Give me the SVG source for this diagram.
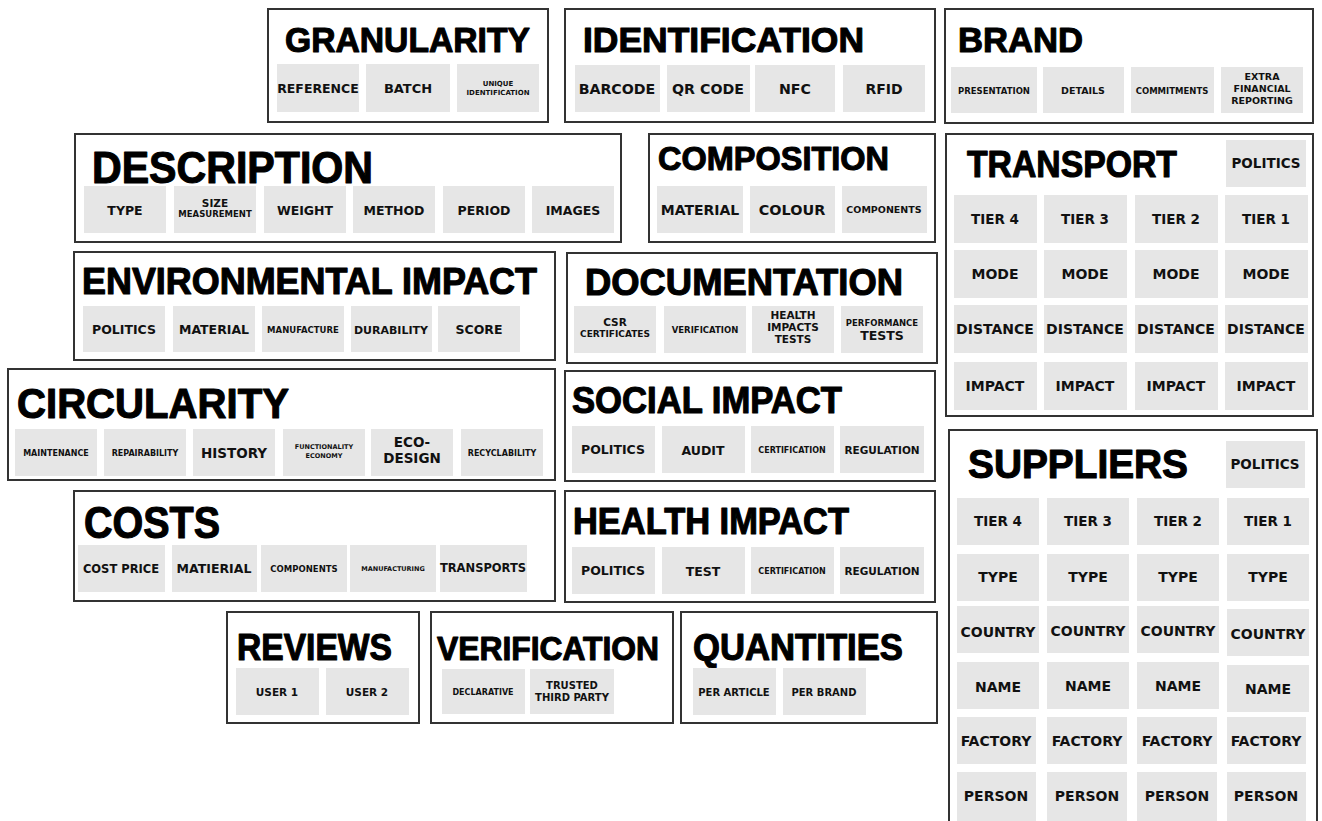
<svg xmlns="http://www.w3.org/2000/svg" width="1322" height="821" viewBox="0 0 1322 821">
<style>
.box{fill:#fff;stroke:#333;stroke-width:2}
.cell{fill:#e6e6e6}
.t{font-family:"Liberation Sans",Arial,sans-serif;font-weight:700;fill:#000;stroke:#000;stroke-width:1.1;stroke-linejoin:round}
.c{font-family:"DejaVu Sans","Liberation Sans",sans-serif;font-weight:700;fill:#111;text-anchor:middle}
</style>
<rect width="1322" height="821" fill="#fff"/>
<g id="connectors"/>

<g id="granularity">
<rect class="box" x="268" y="9" width="280" height="113"/>
<text class="t" x="285" y="52" font-size="35" textLength="245" lengthAdjust="spacingAndGlyphs">GRANULARITY</text>
<rect class="cell" x="277" y="64" width="82" height="48"/><text class="c" x="318" y="93" font-size="12.5">REFERENCE</text>
<rect class="cell" x="366" y="64" width="84" height="48"/><text class="c" x="408" y="93" font-size="13">BATCH</text>
<rect class="cell" x="457" y="64" width="82" height="48"/><text class="c" x="498" y="86" font-size="7">UNIQUE</text><text class="c" x="498" y="95" font-size="7">IDENTIFICATION</text>
</g>

<g id="identification">
<rect class="box" x="565" y="9" width="370" height="113"/>
<text class="t" x="583" y="52" font-size="35" textLength="281" lengthAdjust="spacingAndGlyphs">IDENTIFICATION</text>
<rect class="cell" x="575" y="65" width="85" height="47"/><text class="c" x="617" y="94" font-size="14.2">BARCODE</text>
<rect class="cell" x="667" y="65" width="83" height="47"/><text class="c" x="708" y="94" font-size="14.2">QR CODE</text>
<rect class="cell" x="755" y="65" width="80" height="47"/><text class="c" x="795" y="94" font-size="14.2">NFC</text>
<rect class="cell" x="843" y="65" width="82" height="47"/><text class="c" x="884" y="94" font-size="14">RFID</text>
</g>

<g id="brand">
<rect class="box" x="945" y="9" width="368" height="114"/>
<text class="t" x="958" y="52" font-size="35" textLength="125" lengthAdjust="spacingAndGlyphs">BRAND</text>
<rect class="cell" x="951" y="67" width="86" height="46"/><text class="c" x="994" y="94" font-size="8.5">PRESENTATION</text>
<rect class="cell" x="1043" y="67" width="81" height="46"/><text class="c" x="1083" y="94" font-size="9.5">DETAILS</text>
<rect class="cell" x="1131" y="67" width="83" height="46"/><text class="c" x="1172" y="94" font-size="8.5">COMMITMENTS</text>
<rect class="cell" x="1221" y="67" width="82" height="46"/><text class="c" x="1262" y="80" font-size="9.5">EXTRA</text><text class="c" x="1262" y="92" font-size="9.5">FINANCIAL</text><text class="c" x="1262" y="104" font-size="9.5">REPORTING</text>
</g>

<g id="description">
<rect class="box" x="75" y="134" width="546" height="108"/>
<text class="t" x="92" y="183" font-size="44" textLength="281" lengthAdjust="spacingAndGlyphs">DESCRIPTION</text>
<rect class="cell" x="84" y="186" width="82" height="47"/><text class="c" x="125" y="215" font-size="12.5">TYPE</text>
<rect class="cell" x="174" y="186" width="82" height="47"/><text class="c" x="215" y="207" font-size="10.5">SIZE</text><text class="c" x="215" y="217" font-size="8.5">MEASUREMENT</text>
<rect class="cell" x="264" y="186" width="82" height="47"/><text class="c" x="305" y="215" font-size="12.5">WEIGHT</text>
<rect class="cell" x="353" y="186" width="82" height="47"/><text class="c" x="394" y="215" font-size="12.5">METHOD</text>
<rect class="cell" x="443" y="186" width="82" height="47"/><text class="c" x="484" y="215" font-size="12.5">PERIOD</text>
<rect class="cell" x="532" y="186" width="82" height="47"/><text class="c" x="573" y="215" font-size="12.5">IMAGES</text>
</g>

<g id="composition">
<rect class="box" x="649" y="134" width="286" height="108"/>
<text class="t" x="658" y="170" font-size="34" textLength="231" lengthAdjust="spacingAndGlyphs">COMPOSITION</text>
<rect class="cell" x="657" y="186" width="86" height="47"/><text class="c" x="700" y="215" font-size="14">MATERIAL</text>
<rect class="cell" x="750" y="186" width="85" height="47"/><text class="c" x="792" y="215" font-size="14.4">COLOUR</text>
<rect class="cell" x="842" y="186" width="85" height="47"/><text class="c" x="884" y="213" font-size="9.5">COMPONENTS</text>
</g>

<g id="transport">
<rect class="box" x="946" y="134" width="367" height="282"/>
<text class="t" x="967" y="177" font-size="37" textLength="210" lengthAdjust="spacingAndGlyphs">TRANSPORT</text>
<rect class="cell" x="1226" y="140" width="80" height="47"/><text class="c" x="1266" y="168" font-size="13.5">POLITICS</text>
<rect class="cell" x="954" y="195" width="83" height="48"/><text class="c" x="995" y="224" font-size="13.5">TIER 4</text>
<rect class="cell" x="1044" y="195" width="83" height="48"/><text class="c" x="1085" y="224" font-size="13.5">TIER 3</text>
<rect class="cell" x="1135" y="195" width="83" height="48"/><text class="c" x="1176" y="224" font-size="13.5">TIER 2</text>
<rect class="cell" x="1225" y="195" width="83" height="48"/><text class="c" x="1266" y="224" font-size="13.5">TIER 1</text>
<rect class="cell" x="954" y="250" width="83" height="48"/><text class="c" x="995" y="279" font-size="14">MODE</text>
<rect class="cell" x="1044" y="250" width="83" height="48"/><text class="c" x="1085" y="279" font-size="14">MODE</text>
<rect class="cell" x="1135" y="250" width="83" height="48"/><text class="c" x="1176" y="279" font-size="14">MODE</text>
<rect class="cell" x="1225" y="250" width="83" height="48"/><text class="c" x="1266" y="279" font-size="14">MODE</text>
<rect class="cell" x="954" y="305" width="83" height="48"/><text class="c" x="995" y="334" font-size="14">DISTANCE</text>
<rect class="cell" x="1044" y="305" width="83" height="48"/><text class="c" x="1085" y="334" font-size="14">DISTANCE</text>
<rect class="cell" x="1135" y="305" width="83" height="48"/><text class="c" x="1176" y="334" font-size="14">DISTANCE</text>
<rect class="cell" x="1225" y="305" width="83" height="48"/><text class="c" x="1266" y="334" font-size="14">DISTANCE</text>
<rect class="cell" x="954" y="362" width="83" height="48"/><text class="c" x="995" y="391" font-size="14">IMPACT</text>
<rect class="cell" x="1044" y="362" width="83" height="48"/><text class="c" x="1085" y="391" font-size="14">IMPACT</text>
<rect class="cell" x="1135" y="362" width="83" height="48"/><text class="c" x="1176" y="391" font-size="14">IMPACT</text>
<rect class="cell" x="1225" y="362" width="83" height="48"/><text class="c" x="1266" y="391" font-size="14">IMPACT</text>
</g>

<g id="environmental-impact">
<rect class="box" x="74" y="252" width="481" height="108"/>
<text class="t" x="82" y="294" font-size="36" textLength="455" lengthAdjust="spacingAndGlyphs">ENVIRONMENTAL IMPACT</text>
<rect class="cell" x="83" y="306" width="82" height="46"/><text class="c" x="124" y="334" font-size="12.5">POLITICS</text>
<rect class="cell" x="173" y="306" width="82" height="46"/><text class="c" x="214" y="334" font-size="12.5">MATERIAL</text>
<rect class="cell" x="262" y="306" width="82" height="46"/><text class="c" x="303" y="333" font-size="8.5">MANUFACTURE</text>
<rect class="cell" x="351" y="306" width="81" height="46"/><text class="c" x="391" y="334" font-size="11">DURABILITY</text>
<rect class="cell" x="438" y="306" width="82" height="46"/><text class="c" x="479" y="334" font-size="12.5">SCORE</text>
</g>

<g id="documentation">
<rect class="box" x="567" y="253" width="370" height="110"/>
<text class="t" x="585" y="295" font-size="37" textLength="318" lengthAdjust="spacingAndGlyphs">DOCUMENTATION</text>
<rect class="cell" x="574" y="306" width="82" height="47"/><text class="c" x="615" y="326" font-size="10.5">CSR</text><text class="c" x="615" y="337" font-size="9">CERTIFICATES</text>
<rect class="cell" x="664" y="306" width="82" height="47"/><text class="c" x="705" y="333" font-size="8.5">VERIFICATION</text>
<rect class="cell" x="752" y="306" width="82" height="47"/><text class="c" x="793" y="319" font-size="10.5">HEALTH</text><text class="c" x="793" y="331" font-size="10.5">IMPACTS</text><text class="c" x="793" y="343" font-size="10.5">TESTS</text>
<rect class="cell" x="841" y="306" width="82" height="47"/><text class="c" x="882" y="326" font-size="8.5">PERFORMANCE</text><text class="c" x="882" y="340" font-size="12.5">TESTS</text>
</g>

<g id="circularity">
<rect class="box" x="8" y="369" width="547" height="111"/>
<text class="t" x="17" y="418" font-size="42" textLength="272" lengthAdjust="spacingAndGlyphs">CIRCULARITY</text>
<rect class="cell" x="15" y="429" width="82" height="47"/><text class="c" x="56" y="456" font-size="8">MAINTENANCE</text>
<rect class="cell" x="104" y="429" width="82" height="47"/><text class="c" x="145" y="456" font-size="8">REPAIRABILITY</text>
<rect class="cell" x="193" y="429" width="82" height="47"/><text class="c" x="234" y="458" font-size="13.5">HISTORY</text>
<rect class="cell" x="283" y="429" width="82" height="47"/><text class="c" x="324" y="449" font-size="6.5">FUNCTIONALITY</text><text class="c" x="324" y="458" font-size="6.5">ECONOMY</text>
<rect class="cell" x="371" y="429" width="82" height="47"/><text class="c" x="412" y="447" font-size="13.5">ECO-</text><text class="c" x="412" y="463" font-size="13.5">DESIGN</text>
<rect class="cell" x="461" y="429" width="82" height="47"/><text class="c" x="502" y="456" font-size="8">RECYCLABILITY</text>
</g>

<g id="social-impact">
<rect class="box" x="565" y="371" width="370" height="110"/>
<text class="t" x="572" y="413" font-size="36" textLength="270" lengthAdjust="spacingAndGlyphs">SOCIAL IMPACT</text>
<rect class="cell" x="572" y="426" width="83" height="47"/><text class="c" x="613" y="454" font-size="12.5">POLITICS</text>
<rect class="cell" x="662" y="426" width="83" height="47"/><text class="c" x="703" y="455" font-size="12.5">AUDIT</text>
<rect class="cell" x="751" y="426" width="83" height="47"/><text class="c" x="792" y="453" font-size="8">CERTIFICATION</text>
<rect class="cell" x="840" y="426" width="84" height="47"/><text class="c" x="882" y="454" font-size="10.5">REGULATION</text>
</g>

<g id="suppliers">
<rect class="box" x="949" y="430" width="368" height="400"/>
<text class="t" x="968" y="478" font-size="40" textLength="220" lengthAdjust="spacingAndGlyphs">SUPPLIERS</text>
<rect class="cell" x="1226" y="441" width="79" height="47"/><text class="c" x="1265" y="469" font-size="13.5">POLITICS</text>
<rect class="cell" x="957" y="498" width="82" height="47"/><text class="c" x="998" y="526" font-size="13.5">TIER 4</text>
<rect class="cell" x="1047" y="498" width="82" height="47"/><text class="c" x="1088" y="526" font-size="13.5">TIER 3</text>
<rect class="cell" x="1137" y="498" width="82" height="47"/><text class="c" x="1178" y="526" font-size="13.5">TIER 2</text>
<rect class="cell" x="1227" y="498" width="82" height="47"/><text class="c" x="1268" y="526" font-size="13.5">TIER 1</text>
<rect class="cell" x="957" y="554" width="82" height="47"/><text class="c" x="998" y="582" font-size="14">TYPE</text>
<rect class="cell" x="1047" y="554" width="82" height="47"/><text class="c" x="1088" y="582" font-size="14">TYPE</text>
<rect class="cell" x="1137" y="554" width="82" height="47"/><text class="c" x="1178" y="582" font-size="14">TYPE</text>
<rect class="cell" x="1227" y="554" width="82" height="47"/><text class="c" x="1268" y="582" font-size="14">TYPE</text>
<rect class="cell" x="957" y="606" width="82" height="47"/><text class="c" x="998" y="637" font-size="14">COUNTRY</text>
<rect class="cell" x="1047" y="606" width="82" height="47"/><text class="c" x="1088" y="636" font-size="14">COUNTRY</text>
<rect class="cell" x="1137" y="606" width="82" height="47"/><text class="c" x="1178" y="636" font-size="14">COUNTRY</text>
<rect class="cell" x="1227" y="609" width="82" height="47"/><text class="c" x="1268" y="639" font-size="14">COUNTRY</text>
<rect class="cell" x="957" y="662" width="82" height="47"/><text class="c" x="998" y="692" font-size="14">NAME</text>
<rect class="cell" x="1047" y="662" width="82" height="47"/><text class="c" x="1088" y="691" font-size="14">NAME</text>
<rect class="cell" x="1137" y="662" width="82" height="47"/><text class="c" x="1178" y="691" font-size="14">NAME</text>
<rect class="cell" x="1227" y="665" width="82" height="47"/><text class="c" x="1268" y="694" font-size="14">NAME</text>
<rect class="cell" x="957" y="717" width="79" height="47"/><text class="c" x="996" y="746" font-size="14">FACTORY</text>
<rect class="cell" x="1047" y="717" width="80" height="47"/><text class="c" x="1087" y="746" font-size="14">FACTORY</text>
<rect class="cell" x="1137" y="717" width="80" height="47"/><text class="c" x="1177" y="746" font-size="14">FACTORY</text>
<rect class="cell" x="1227" y="717" width="79" height="47"/><text class="c" x="1266" y="746" font-size="14">FACTORY</text>
<rect class="cell" x="957" y="772" width="79" height="49"/><text class="c" x="996" y="801" font-size="14">PERSON</text>
<rect class="cell" x="1047" y="772" width="80" height="49"/><text class="c" x="1087" y="801" font-size="14">PERSON</text>
<rect class="cell" x="1137" y="772" width="80" height="49"/><text class="c" x="1177" y="801" font-size="14">PERSON</text>
<rect class="cell" x="1227" y="772" width="79" height="49"/><text class="c" x="1266" y="801" font-size="14">PERSON</text>
</g>

<g id="costs">
<rect class="box" x="74" y="491" width="481" height="110"/>
<text class="t" x="84" y="538" font-size="44" textLength="136" lengthAdjust="spacingAndGlyphs">COSTS</text>
<rect class="cell" x="78" y="545" width="87" height="47"/><text class="c" x="121" y="573" font-size="11.5">COST PRICE</text>
<rect class="cell" x="172" y="545" width="85" height="47"/><text class="c" x="214" y="573" font-size="12.5">MATIERIAL</text>
<rect class="cell" x="261" y="545" width="86" height="47"/><text class="c" x="304" y="572" font-size="8.5">COMPONENTS</text>
<rect class="cell" x="350" y="545" width="86" height="47"/><text class="c" x="393" y="571" font-size="6.5">MANUFACTURING</text>
<rect class="cell" x="440" y="545" width="87" height="47"/><text class="c" x="483" y="572" font-size="11.5">TRANSPORTS</text>
</g>

<g id="health-impact">
<rect class="box" x="565" y="491" width="370" height="111"/>
<text class="t" x="573" y="534" font-size="36" textLength="276" lengthAdjust="spacingAndGlyphs">HEALTH IMPACT</text>
<rect class="cell" x="572" y="547" width="83" height="47"/><text class="c" x="613" y="575" font-size="12.5">POLITICS</text>
<rect class="cell" x="662" y="547" width="83" height="47"/><text class="c" x="703" y="576" font-size="12.5">TEST</text>
<rect class="cell" x="751" y="547" width="83" height="47"/><text class="c" x="792" y="574" font-size="8">CERTIFICATION</text>
<rect class="cell" x="840" y="547" width="84" height="47"/><text class="c" x="882" y="575" font-size="10.5">REGULATION</text>
</g>

<g id="reviews">
<rect class="box" x="227" y="612" width="192" height="111"/>
<text class="t" x="237" y="660" font-size="36" textLength="155" lengthAdjust="spacingAndGlyphs">REVIEWS</text>
<rect class="cell" x="236" y="668" width="83" height="47"/><text class="c" x="277" y="696" font-size="10.5">USER 1</text>
<rect class="cell" x="326" y="668" width="83" height="47"/><text class="c" x="367" y="696" font-size="10.5">USER 2</text>
</g>

<g id="verification">
<rect class="box" x="431" y="612" width="242" height="111"/>
<text class="t" x="437" y="660" font-size="34" textLength="222" lengthAdjust="spacingAndGlyphs">VERIFICATION</text>
<rect class="cell" x="442" y="669" width="83" height="45"/><text class="c" x="483" y="695" font-size="8">DECLARATIVE</text>
<rect class="cell" x="530" y="669" width="84" height="45"/><text class="c" x="572" y="689" font-size="10">TRUSTED</text><text class="c" x="572" y="701" font-size="10">THIRD PARTY</text>
</g>

<g id="quantities">
<rect class="box" x="681" y="612" width="256" height="111"/>
<text class="t" x="693" y="660" font-size="36" textLength="210" lengthAdjust="spacingAndGlyphs">QUANTITIES</text>
<rect class="cell" x="693" y="668" width="83" height="47"/><text class="c" x="734" y="696" font-size="10">PER ARTICLE</text>
<rect class="cell" x="783" y="668" width="83" height="47"/><text class="c" x="824" y="696" font-size="10">PER BRAND</text>
</g>
</svg>
